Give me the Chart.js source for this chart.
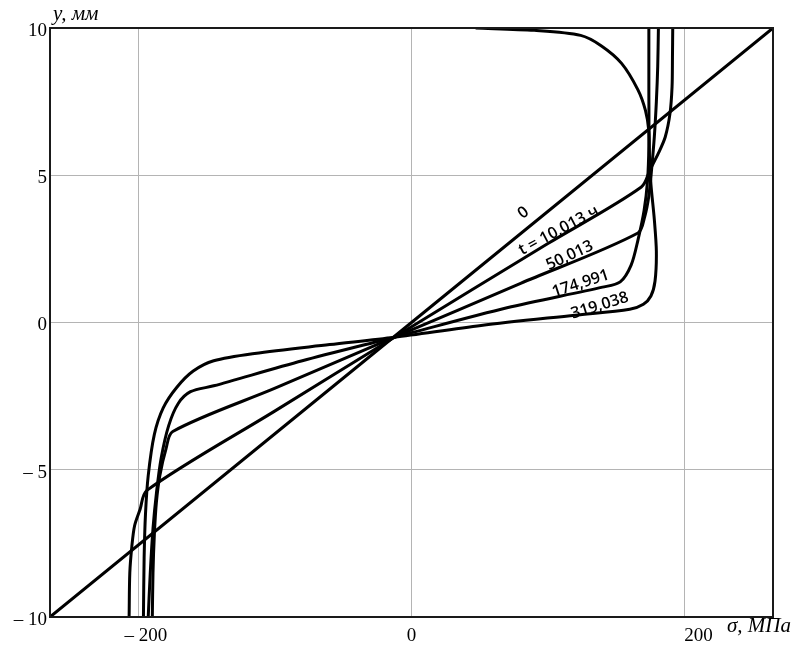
<!DOCTYPE html>
<html>
<head>
<meta charset="utf-8">
<script src="https://cdn.jsdelivr.net/npm/chart.js@4.4.1/dist/chart.umd.min.js"></script>
<style>
  html, body { margin: 0; padding: 0; background: #fff; }
  #wrap { width: 794px; height: 647px; }
</style>
</head>
<body>
<div id="wrap"><canvas id="chart" width="794" height="647"></canvas></div>
<script>
// подписи кривых (время, ч)
const curveNames = ["0", "t = 10,013 ч", "50,013", "174,991", "319,038"];

// t = 0 (упругое распределение)
const sigma0 = [-265, 265];
const y0 = [-10, 10];

// t = 10,013 ч
const sigma10 = [-207, -206.5, -205, -203, -199, -194, -100, -12.5, 100, 168.5, 175, 181, 186, 189.5, 191, 191.3, 191.5];
const y10 = [-10, -8.5, -7.6, -6.9, -6.35, -5.7, -3.0, -0.5, 2.68, 4.6, 5.2, 5.75, 6.3, 7.1, 8, 9, 10];

// t = 50,013 ч
const sigma50 = [-190, -189.5, -188.5, -187, -184.5, -180, -175, -100, -12.5, 80, 166, 171, 174, 176, 178, 179.5, 180.5, 181];
const y50 = [-10, -8.5, -7.2, -6.1, -5.2, -4.3, -3.7, -2.23, -0.5, 1.33, 3.04, 3.6, 4.3, 5.2, 6.3, 7.5, 8.7, 10];

// t = 174,991 ч
const sigma175 = [-193, -191.5, -189.5, -187, -183.5, -178, -171, -162, -145, -80, -12.5, 70, 140, 153, 161, 166, 170.5, 173, 174, 174, 174];
const y175 = [-10, -8.5, -7.0, -5.8, -4.6, -3.5, -2.75, -2.35, -2.15, -1.3, -0.5, 0.5, 1.2, 1.38, 1.95, 2.8, 3.8, 4.8, 6, 8, 10];

// t = 319,038 ч
const sigma319 = [-196.5, -196, -195, -193, -188.5, -182, -172, -160, -145, -115, -60, -12.5, 51, 120, 160, 170, 175.5, 178.5, 179.5, 178, 175.5, 174.5, 174, 171.5, 166, 154, 139, 124, 90, 47];
const y319 = [-10, -8, -6.5, -5.2, -3.8, -2.9, -2.2, -1.65, -1.3, -1.05, -0.75, -0.5, -0.1, 0.25, 0.45, 0.62, 0.9, 1.4, 2.4, 3.5, 4.7, 5.6, 6.5, 7.2, 7.9, 8.8, 9.4, 9.75, 9.92, 10];

// деления осей
const xTicks = [-200, 0, 200];
const yTicks = [-10, -5, 0, 5, 10];

// где стоят подписи кривых (в единицах графика) и их наклон
const nameSigma = [82, 108, 116, 124, 138];
const nameY = [3.72, 3.12, 2.27, 1.32, 0.57];
const nameAngle = [-37, -28, -25, -18, -17];

function pts(xs, ys) {
  return xs.map((x, i) => ({ x: x, y: ys[i] }));
}

function curve(xs, ys) {
  return {
    data: pts(xs, ys),
    showLine: true,
    borderColor: "#000",
    backgroundColor: "#000",
    borderWidth: 3,
    pointRadius: 0,
    tension: 0.3,
    fill: false,
  };
}

const fmt = (v) => (v < 0 ? "\u2013 " + Math.abs(v) : String(v));

// рамка, подписи по оси x, названия осей и подписи кривых
const decor = {
  id: "decor",
  afterDatasetsDraw(chart) {
    const ctx = chart.ctx;
    const a = chart.chartArea;
    const sx = chart.scales.x;
    const sy = chart.scales.y;
    ctx.save();
    ctx.strokeStyle = "#1a1a1a";
    ctx.lineWidth = 2;
    ctx.strokeRect(a.left, a.top, a.right - a.left, a.bottom - a.top);

    ctx.fillStyle = "#000";
    ctx.font = "19px 'Liberation Serif'";
    ctx.textBaseline = "alphabetic";
    xTicks.forEach((v) => {
      const px = sx.getPixelForValue(v);
      if (v === 0) {
        ctx.textAlign = "center";
        ctx.fillText("0", px, 641);
      } else {
        ctx.textAlign = "left";
        ctx.fillText(String(Math.abs(v)), px, 641);
        if (v < 0) {
          ctx.textAlign = "right";
          ctx.fillText("\u2013 ", px, 641);
        }
      }
    });

    ctx.font = "italic 21px 'Liberation Serif'";
    ctx.textAlign = "left";
    ctx.fillText("y, мм", 53, 20);
    ctx.fillText("\u03c3, МПа", 727, 632);

    ctx.font = "600 16px 'Open Sans'";
    ctx.textAlign = "center";
    ctx.textBaseline = "middle";
    curveNames.forEach((t, i) => {
      ctx.save();
      ctx.translate(sx.getPixelForValue(nameSigma[i]), sy.getPixelForValue(nameY[i]));
      ctx.rotate((nameAngle[i] * Math.PI) / 180);
      ctx.fillText(t, 0, 0);
      ctx.restore();
    });
    ctx.restore();
  },
};

const config = {
  type: "scatter",
  data: {
    datasets: [
      curve(sigma0, y0),
      curve(sigma10, y10),
      curve(sigma50, y50),
      curve(sigma175, y175),
      curve(sigma319, y319),
    ],
  },
  options: {
    responsive: false,
    animation: false,
    layout: { padding: { top: 28, right: 21, left: 0, bottom: 0 } },
    plugins: {
      legend: { display: false },
      tooltip: { enabled: false },
    },
    scales: {
      x: {
        type: "linear",
        min: -265,
        max: 265,
        afterBuildTicks: (s) => { s.ticks = xTicks.map((v) => ({ value: v })); },
        afterFit: (s) => { s.height = 30; },
        ticks: { display: false },
        grid: { color: "#b4b4b4", lineWidth: 1, drawTicks: false },
        border: { display: false },
      },
      y: {
        type: "linear",
        min: -10,
        max: 10,
        afterBuildTicks: (s) => { s.ticks = yTicks.map((v) => ({ value: v })); },
        afterFit: (s) => { s.width = 50; },
        ticks: {
          color: "#000",
          padding: 3,
          labelOffset: 3,
          font: { family: "'Liberation Serif'", size: 19 },
          callback: fmt,
        },
        grid: { color: "#b4b4b4", lineWidth: 1, drawTicks: false },
        border: { display: false },
      },
    },
  },
  plugins: [decor],
};

const myChart = new Chart(document.getElementById("chart"), config);
</script>
</body>
</html>
